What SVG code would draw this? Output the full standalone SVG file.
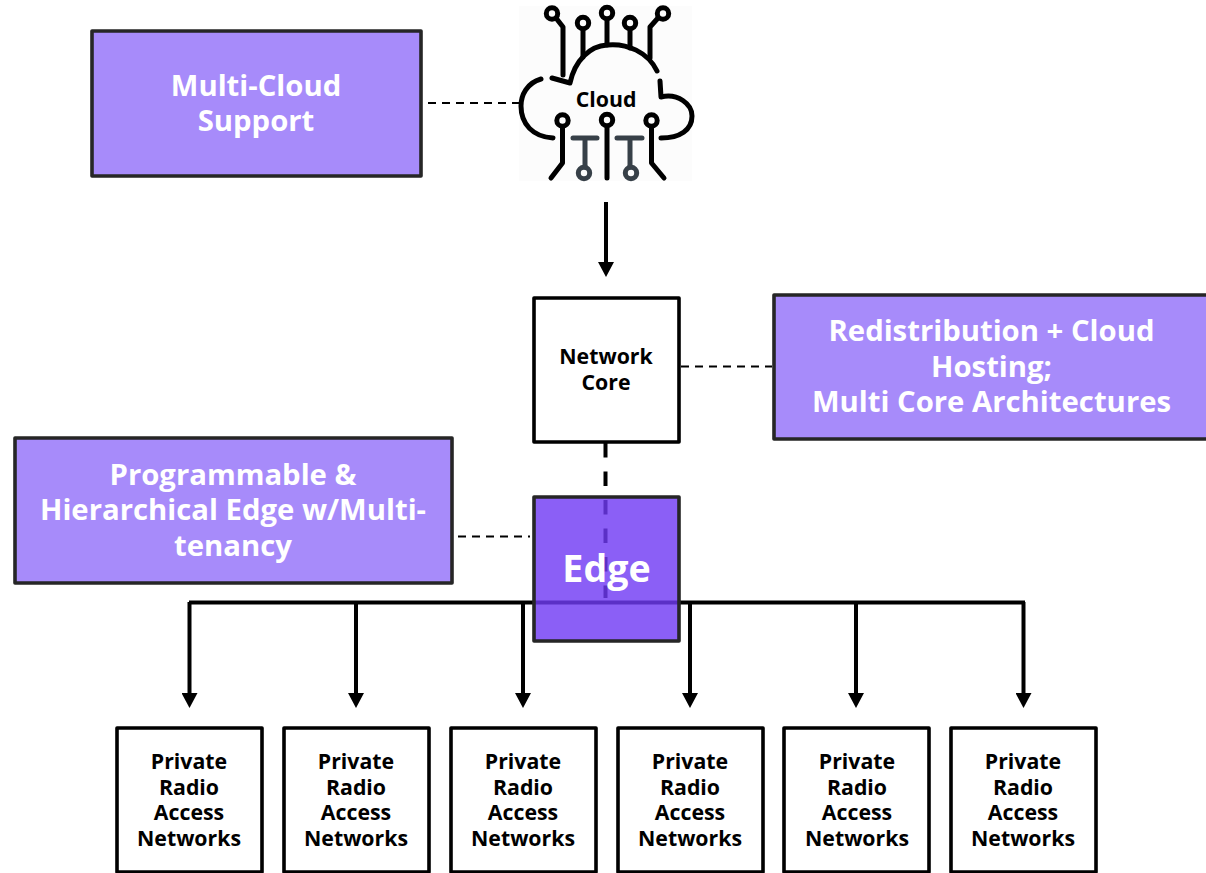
<svg xmlns="http://www.w3.org/2000/svg" width="1206" height="873" viewBox="0 0 1206 873">
<style>
text{font-family:"Open Sans","Noto Sans",sans-serif;text-anchor:middle}
.p{fill:#a78bfa;stroke:#262626;stroke-width:3.6;stroke-linejoin:round}
.w{fill:#fff;stroke:#000;stroke-width:3.6;stroke-linejoin:round}
.pt{font-size:29.3px;font-weight:700;fill:#fff}
.bt{font-size:21.3px;font-weight:700;fill:#000}
.c{fill:none;stroke:#000;stroke-width:4}
.d{fill:none;stroke:#000;stroke-width:2;stroke-dasharray:8 6}
.i{fill:none;stroke:#000;stroke-width:5;stroke-linecap:round;stroke-linejoin:round}
.g{fill:none;stroke:#374048;stroke-width:5;stroke-linecap:round;stroke-linejoin:round}
</style>
<defs>
<marker id="a" markerUnits="userSpaceOnUse" markerWidth="16" markerHeight="16" refX="7" refY="8" orient="auto"><path d="M0 0L15 8L0 16Z" fill="#000"/></marker>
</defs>
<rect x="519" y="6" width="173" height="175" fill="#fcfcfc"/>
<g id="connectors">
<path class="d" d="M428 103H520"/>
<path class="c" d="M606 202V269" marker-end="url(#a)"/>
<path class="d" d="M681 366.500H772"/>
<path class="d" d="M458 536.500H530"/>
<path d="M605.500 443V598" fill="none" stroke="#000" stroke-width="4" stroke-dasharray="14.500 14"/>
<path class="c" d="M189 602.500H1025"/>
<path class="c" d="M189.500 602V700" marker-end="url(#a)"/>
<path class="c" d="M356 602V700" marker-end="url(#a)"/>
<path class="c" d="M523 602V700" marker-end="url(#a)"/>
<path class="c" d="M690 602V700" marker-end="url(#a)"/>
<path class="c" d="M856 602V700" marker-end="url(#a)"/>
<path class="c" d="M1023.500 602V700" marker-end="url(#a)"/>
</g>
<g id="cloud">
<circle class="i" cx="552" cy="13.500" r="5.700"/><circle class="i" cx="583" cy="23" r="5.700"/><circle class="i" cx="607" cy="13" r="5.700"/><circle class="i" cx="630" cy="23" r="5.700"/><circle class="i" cx="663" cy="13.500" r="5.700"/>
<path class="i" d="M556 18L563 27V75M583 30V57M607 20V45M630 30V48M658 18L650 27V58"/>
<path class="i" d="M552 78L570 83C575 60 590 46 607 45C627 43 648 52 657 71"/>
<path class="i" d="M541 79C527 83 521 95 521 106C521 124 533 137 553 138"/>
<path class="i" d="M660 81L661 97C678 93 692 104 692 116C692 130 680 138 661 138"/>
<text x="606" y="107" style="font-size:21.300px;font-weight:700;fill:#000">Cloud</text>
<circle class="i" cx="562.500" cy="120.500" r="5.700"/><circle class="i" cx="607" cy="120" r="5.700"/><circle class="i" cx="651.500" cy="120.500" r="5.700"/>
<path class="i" d="M562.500 127V163L551 178M607 127V178M651.500 127V163L664 178"/>
<path class="g" d="M573 138H597M585 138V167M617 138H642M630 138V167"/>
<circle class="g" cx="584" cy="173" r="5.700"/><circle class="g" cx="631" cy="173" r="5.700"/>
</g>
<g id="multi-cloud"><rect class="p" x="92" y="31" width="329" height="145"/><text class="pt" x="256" y="96">Multi-Cloud</text><text class="pt" x="256" y="131">Support</text></g>
<g id="core"><rect class="w" x="534" y="298" width="145" height="144"/><text class="bt" x="606" y="364">Network</text><text class="bt" x="606" y="390">Core</text></g>
<g id="redistribution"><rect class="p" x="774" y="295" width="440" height="144"/><text class="pt" x="991.500" y="341">Redistribution + Cloud</text><text class="pt" x="991.500" y="377">Hosting;</text><text class="pt" x="991.500" y="412">Multi Core Architectures</text></g>
<g id="programmable"><rect class="p" x="15" y="438" width="437" height="145"/><text class="pt" x="233" y="485">Programmable &amp;</text><text class="pt" x="233" y="520">Hierarchical Edge w/Multi-</text><text class="pt" x="233" y="556">tenancy</text></g>
<g id="edge"><rect x="534" y="497" width="145" height="144" fill="#703af4" fill-opacity=".81" stroke="#262626" stroke-width="3.600" stroke-linejoin="round"/><text x="606.500" y="582" style="font-size:37.600px;font-weight:700;fill:#fff">Edge</text></g>
<g id="ran1"><rect class="w" x="117" y="728" width="145" height="144"/><text class="bt" x="189" y="769">Private</text><text class="bt" x="189" y="795">Radio</text><text class="bt" x="189" y="820">Access</text><text class="bt" x="189" y="846">Networks</text></g>
<g id="ran2"><rect class="w" x="284" y="728" width="145" height="144"/><text class="bt" x="356" y="769">Private</text><text class="bt" x="356" y="795">Radio</text><text class="bt" x="356" y="820">Access</text><text class="bt" x="356" y="846">Networks</text></g>
<g id="ran3"><rect class="w" x="451" y="728" width="145" height="144"/><text class="bt" x="523" y="769">Private</text><text class="bt" x="523" y="795">Radio</text><text class="bt" x="523" y="820">Access</text><text class="bt" x="523" y="846">Networks</text></g>
<g id="ran4"><rect class="w" x="618" y="728" width="145" height="144"/><text class="bt" x="690" y="769">Private</text><text class="bt" x="690" y="795">Radio</text><text class="bt" x="690" y="820">Access</text><text class="bt" x="690" y="846">Networks</text></g>
<g id="ran5"><rect class="w" x="784" y="728" width="145" height="144"/><text class="bt" x="857" y="769">Private</text><text class="bt" x="857" y="795">Radio</text><text class="bt" x="857" y="820">Access</text><text class="bt" x="857" y="846">Networks</text></g>
<g id="ran6"><rect class="w" x="951" y="728" width="145" height="144"/><text class="bt" x="1023" y="769">Private</text><text class="bt" x="1023" y="795">Radio</text><text class="bt" x="1023" y="820">Access</text><text class="bt" x="1023" y="846">Networks</text></g>
</svg>
